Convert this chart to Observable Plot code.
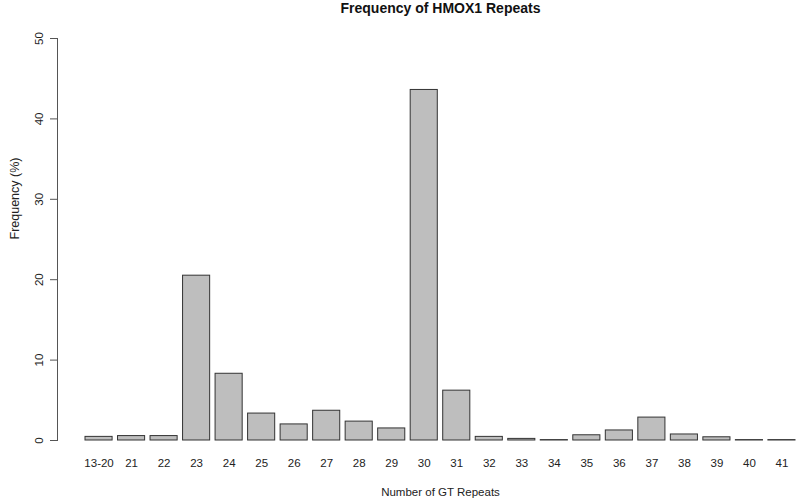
<!DOCTYPE html>
<html>
<head>
<meta charset="utf-8">
<script src="https://cdn.jsdelivr.net/npm/d3@7"></script>
<script src="https://cdn.jsdelivr.net/npm/@observablehq/plot@0.6"></script>
<style>
  html, body { margin: 0; padding: 0; background: #fff; }
  svg { display: block; }
</style>
</head>
<body>
<div id="chart"></div>
<script>
const repeats = ["13-20","21","22","23","24","25","26","27","28","29","30","31","32","33","34","35","36","37","38","39","40","41"];
const frequency = [0.45,0.55,0.55,20.5,8.3,3.35,2.0,3.7,2.35,1.5,43.6,6.2,0.45,0.2,0.05,0.65,1.25,2.85,0.75,0.4,0.05,0.05];
const yTicks = [0,10,20,30,40,50];
const title = "Frequency of HMOX1 Repeats";
const xTitle = "Number of GT Repeats";
const yTitle = "Frequency (%)";

const data = repeats.map((r, i) => ({repeat: r, freq: frequency[i]}));
const font = "'Liberation Sans', Arial, Helvetica, sans-serif";

const chart = Plot.plot({
  width: 800,
  height: 503,
  marginLeft: 85,
  marginRight: 5,
  marginTop: 38,
  marginBottom: 63,
  style: {fontFamily: font, fontSize: "11.5px", color: "#222", background: "#fff"},
  x: {domain: repeats, paddingInner: 1/6, paddingOuter: 0, round: false, label: null},
  y: {domain: [0, 50], label: null},
  marks: [
    Plot.barY(data, {x: "repeat", y: "freq", fill: "#bebebe", stroke: "#333", strokeWidth: 1}),
    Plot.axisX({tickSize: 0, tickPadding: 18, label: null, fontSize: 11.5}),
    Plot.axisY({ticks: yTicks, tickSize: 7, tickPadding: 8, dx: -28, tickRotate: -90, label: null, stroke: "#555", fontSize: 11.5}),
    Plot.frame({anchor: "left", dx: -28, stroke: "#555"}),
    Plot.text([title], {frameAnchor: "top", dy: -26, text: d => d, fontWeight: "bold", fontSize: 14, lineAnchor: "bottom", fill: "#111"}),
    Plot.text([xTitle], {frameAnchor: "bottom", dy: 55, text: d => d, fontSize: 11.5, lineAnchor: "bottom", fill: "#222"}),
    Plot.text([yTitle], {frameAnchor: "left", dx: -71, text: d => d, fontSize: 12.5, rotate: -90, fill: "#222"})
  ]
});
document.getElementById("chart").appendChild(chart);
</script>
</body>
</html>
